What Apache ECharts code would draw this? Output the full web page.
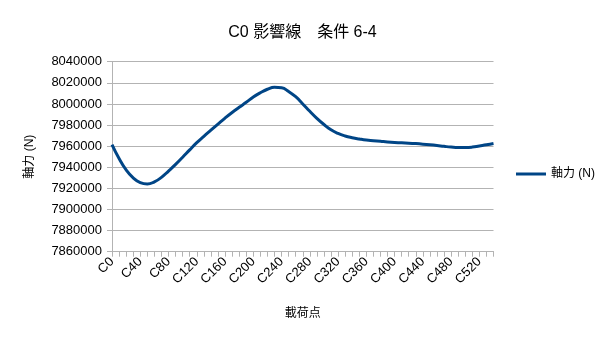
<!DOCTYPE html>
<html>
<head>
<meta charset="utf-8">
<script src="https://cdn.jsdelivr.net/npm/echarts@6/dist/echarts.min.js"></script>
<style>
html,body{margin:0;padding:0;background:#fff;}
#chart{width:605px;height:341px;}
</style>
</head>
<body>
<div id="chart"></div>
<script>
var categories = [];
for (var k = 0; k <= 540; k += 10) categories.push('C' + k);

var axialForce = [
  7961500, 7948300, 7937500, 7930000, 7925400, 7924100, 7926200, 7930400, 7936400, 7942700,
  7949500, 7956500, 7963300, 7969300, 7975100, 7980900, 7986600, 7991900, 7996800, 8001500,
  8006500, 8010600, 8013900, 8015800, 8015300, 8011800, 8006800, 8000000, 7993000, 7986300,
  7980500, 7975500, 7972000, 7969600, 7968000, 7966800, 7965800, 7965200, 7964600, 7964000,
  7963500, 7963100, 7962800, 7962400, 7961900, 7961300, 7960600, 7959800, 7959100, 7958700,
  7958700, 7959100, 7960200, 7961300, 7962500
];

var seriesName = '軸力 (N)';
var titleText = 'C0 影響線　条件 6-4';
var xAxisName = '載荷点';
var yAxisName = '軸力 (N)';
var yMin = 7860000, yMax = 8040000, yStep = 20000;

var FONT = '"Liberation Sans", "Noto Sans CJK JP", sans-serif';
var chart = echarts.init(document.getElementById('chart'), null, {renderer: 'canvas'});
chart.setOption({
  animation: false,
  backgroundColor: '#ffffff',
  textStyle: {fontFamily: FONT},
  title: {
    text: titleText,
    left: 'center',
    top: 20,
    textStyle: {fontFamily: FONT, fontSize: 16, fontWeight: 'normal', color: '#000'}
  },
  legend: {
    data: [seriesName],
    orient: 'vertical',
    left: 511,
    top: 163,
    itemWidth: 30,
    itemHeight: 14,
    itemGap: 4,
    icon: 'path://M0,6 L30,6 L30,9 L0,9 Z',
    textStyle: {fontFamily: FONT, fontSize: 12, color: '#000'}
  },
  grid: {left: 112, right: 111.5, top: 61.7, bottom: 89.3, containLabel: false},
  xAxis: {
    type: 'category',
    data: categories,
    boundaryGap: false,
    name: xAxisName,
    nameLocation: 'middle',
    nameGap: 56,
    nameTextStyle: {fontFamily: FONT, fontSize: 12, color: '#000'},
    axisLine: {lineStyle: {color: '#b3b3b3', width: 1}},
    axisTick: {show: true, interval: 0, length: 5, lineStyle: {color: '#b3b3b3'}},
    axisLabel: {interval: 3, rotate: 45, fontFamily: FONT, fontSize: 13, color: '#000', margin: 8},
    splitLine: {show: false}
  },
  yAxis: {
    type: 'value',
    min: yMin,
    max: yMax,
    interval: yStep,
    name: yAxisName,
    nameLocation: 'middle',
    nameGap: 76,
    nameRotate: 90,
    nameTextStyle: {fontFamily: FONT, fontSize: 12, color: '#000'},
    axisLine: {show: true, lineStyle: {color: '#b3b3b3', width: 1}},
    axisTick: {show: true, length: 5, lineStyle: {color: '#b3b3b3'}},
    axisLabel: {fontFamily: FONT, fontSize: 13, color: '#000', margin: 10,
      formatter: function (v) { return String(v); }},
    splitLine: {show: true, lineStyle: {color: '#b3b3b3', width: 1}}
  },
  series: [{
    name: seriesName,
    type: 'line',
    data: axialForce,
    smooth: 0.5,
    showSymbol: false,
    symbol: 'none',
    itemStyle: {color: '#004586'},
    lineStyle: {color: '#004586', width: 3}
  }]
});
</script>
</body>
</html>
